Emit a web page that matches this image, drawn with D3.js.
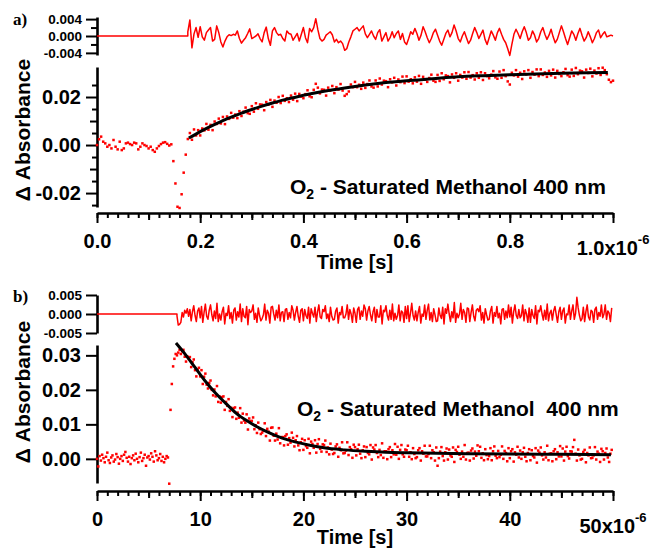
<!DOCTYPE html>
<html lang="en">
<head>
  <meta charset="UTF-8" />
  <title>Transient absorbance, O2-saturated methanol</title>
  <script src="https://d3js.org/d3.v7.min.js"></script>
  <style>
    body { margin: 0; background: #fff; }
    svg { display: block; font-family: "Liberation Sans", Arial, sans-serif; font-weight: bold; }
    .panel-tag { font-family: "Liberation Serif", "Times New Roman", serif; font-size: 17px; }
    .note { white-space: pre; }
  </style>
</head>
<body>
  <svg id="chart" width="653" height="549"></svg>

  <script>
    // all absorbance values below are in units of 1e-4, times in microseconds

    // ---- panel a) : 0 .. 1 us, one sample every 4 ns
    const aStep = 0.004;
    const aData = [
      0, 24, 35, 14, 7, -7, 0, -14, 21, -7,
      -18, 14, -21, -14, 7, 10, 4, 0, 10, 7,
      -18, -7, 7, 0, -4, -14, -7, -21, -28, -14,
      -4, 4, 10, 12, 5, -2, 3,
      -67, -160, -257, -262, -205, -115, -40, 25,
      50, 22, 65, 40, 62, 40, 69, 61, 88, 64,
      84, 62, 98, 88, 110, 90, 117, 87, 119, 109,
      134, 114, 127, 112, 141, 121, 139, 156, 133, 130,
      162, 139, 174, 151, 169, 168, 145, 179, 168, 188,
      159, 185, 176, 200, 175, 205, 184, 195, 179, 206,
      189, 214, 183, 213, 202, 195, 212, 228, 203, 199,
      230, 255, 239, 215, 231, 230, 206, 239, 227, 246,
      216, 241, 231, 254, 227, 205, 212, 223, 252, 241,
      263, 241, 251, 234, 260, 238, 254, 269, 244, 239,
      269, 244, 277, 252, 268, 266, 241, 274, 261, 280,
      248, 273, 262, 285, 258, 286, 264, 274, 257, 282,
      264, 288, 255, 284, 272, 263, 279, 293, 268, 263,
      292, 267, 299, 274, 290, 287, 261, 294, 280, 299,
      268, 292, 281, 303, 276, 304, 281, 291, 273, 299,
      280, 303, 271, 299, 287, 278, 293, 308, 282, 276,
      306, 280, 312, 287, 265, 252, 301, 290, 312, 285,
      301, 275, 307, 294, 312, 280, 304, 293, 315, 287,
      315, 292, 302, 284, 309, 290, 314, 281, 309, 296,
      287, 303, 317, 291, 285, 314, 288, 321, 295, 310,
      307, 281, 314, 300, 318, 286, 310, 298, 320, 292,
      322, 312, 295, 272, 262, 268
    ];
    const aResidStart = 0.176;
    const aResid = [
      10, 38, -28, 5, 20, -3, 22, -2, -10, 8,
      14, 20, -12, -8, 24, 8, -14, -26, -12, -2,
      3, 1, 4, 2, 12, -6, -17, -10, -4, 6,
      17, -6, -3, 0, 5, -6, -14, 8, 21, -6,
      -22, 12, 20, 8, 2, 4, -6, -12, 12, 6,
      4, -10, -2, 6, -12, 4, 20, -4, -16, 18,
      10, 20, 41, 15, -6, -12, -8, 2, 6, 10,
      3, -14, -8, -16, -12, -18, -34, -30, -14, -2,
      12, 16, 20, 12, 18, 24, 5, -4, 4, 12,
      0, -8, 8, 15, -12, -2, 8, -12, -4, 10,
      -4, 6, 12,
      -8, 6, -14, -20, -6, 10, 4, 18, 6, -10,
      2, 22, 10, -4, -16, -6, 8, 16, 2, -12,
      -22, -8, 6, 14, -2, 8, 26, 12, -6, -14,
      0, 10, -4, -18, -10, 6, 20, 8, -6, 4,
      14, -8, -20, -4, 12, 2, -10, 8, 18, 4,
      -8, -16, -30, -46, -20, 4, 16, 6, -6, 10,
      22, 8, -10, -4, 12, 2, -14, -6, 10, 20,
      4, -8, 2, 16, -2, -16, -8, 8, 24, 10,
      -6, -20, -4, 12, 4, -10, 6, 18, 2, -12,
      -4, 10, -2, -16, -6, 8, 14, -4, 4, 10,
      -2, 0, 2, 0
    ];
    const aFit = [
      [0.178, 29], [0.20, 56], [0.22, 78], [0.24, 98], [0.26, 116], [0.28, 133],
      [0.30, 148], [0.32, 162], [0.34, 175], [0.36, 187], [0.38, 197], [0.40, 207],
      [0.44, 224], [0.48, 238], [0.52, 250], [0.56, 260], [0.60, 268], [0.65, 276],
      [0.70, 284], [0.75, 289], [0.80, 293], [0.85, 296], [0.90, 299], [0.95, 301],
      [0.99, 302]
    ];
    const aXTicks = [0, 0.2, 0.4, 0.6, 0.8, 1.0];
    const aXLabels = ["0.0", "0.2", "0.4", "0.6", "0.8", ""];
    const aYTicks = [-200, 0, 200];
    const aYLabels = ["-0.02", "0.00", "0.02"];
    const aRTicks = [-40, 0, 40];
    const aRLabels = ["-0.004", "0.000", "0.004"];

    // ---- panel b) : 0 .. 50 us, one sample every 0.125 us
    const bStep = 0.125;
    const bData = [
      0, -22, 8, -5, 12, 2, -10, 6, 18, -4,
      -12, 4, 10, -8, -2, 14, 5, -14, 0, 8,
      -6, 12, 20, 3, -8, 6, -15, 2, 10, -4,
      15, 0, -10, 5, 18, -6, 2, 12, -20, 4,
      8, -2, 16, 6, -8, 22, 10, -4, 2, 14,
      -6, 6, -10, 0, 8, 4,
      -72, 142, 217, 268, 290, 304, 300, 308,
      316, 304, 312, 316, 296, 282, 297, 292,
      295, 266, 280, 288, 257, 239, 258, 264,
      239, 257, 217, 238, 247, 215, 204, 220,
      227, 200, 184, 201, 181, 211, 165, 181,
      163, 179, 181, 142, 165, 154, 173, 139,
      148, 121, 147, 149, 116, 134, 119, 147,
      105, 131, 111, 105, 129, 85, 117, 109,
      110, 120, 86, 97, 75, 105, 86, 72,
      76, 81, 103, 66, 87, 79, 53, 90,
      91, 67, 53, 73, 56, 89, 45, 63,
      63, 39, 66, 71, 41, 60, 47, 76,
      61, 36, 54, 66, 39, 25, 48, 58,
      26, 54, 37, 32, 58, 16, 50, 43,
      32, 54, 18, 43, 57, 29, 21, 42,
      40, 53, 20, 33, 13, 44, 27, 14,
      17, 36, 42, 6, 32, 25, 48, 16,
      17, 24, 48, 11, 34, 28, 3, 41,
      34, 10, 28, 41, 15, 2, 25, 36,
      5, 34, 17, 13, 40, -2, 33, 27,
      40, 17, 5, 26, 11, 45, 3, 22,
      22, -1, 28, 34, 5, 25, 13, 43,
      12, 35, 0, 26, 40, 13, 6, 27,
      25, 38, 6, 19, -1, 31, 14, 2,
      5, 25, 31, -5, 22, 15, 38, 7,
      7, 14, 38, 2, 25, 19, -5, 33,
      -20, 2, 21, 34, 8, -5, 19, 30,
      -2, 27, 10, 6, 33, -9, 26, 20,
      35, 12, 0, 21, 6, 40, -2, 17,
      18, -5, 24, 30, 1, 21, 9, 39,
      22, 35, 3, 16, -4, 28, 11, -1,
      8, 31, -4, 22, 36, 9, 2, 23,
      5, 12, 36, 0, 23, 17, -7, 31,
      2, 22, 28, -8, 19, 12, 35, 4,
      24, 0, 19, 32, 6, -7, 17, 28,
      -4, 25, 8, 4, 31, -11, 24, 18,
      33, 10, -2, 19, 4, 38, -4, 15,
      16, -7, 22, 28, -1, 19, 7, 37,
      7, 30, -5, 21, 35, 8, 1, 22,
      21, 34, 55, 15, -5, 27, 10, -2,
      0, 20, 26, -10, 17, 10, 33, 2,
      3, 10, 34, -2, 21, 15, -9, 29,
      22, -2, 17, 30, 4, -9, 15, 26
    ];
    const bResidStart = 7.75;
    const bResid = [
      -5, -29, -27, -22, 4, -8, 10, 2, 14, -6,
      12, -18, 6, 22, -4, -20, 8, 16,
      -10, 20, -22, 4, 26, -6, -14, 10,
      24, -2, -18, 8, -12, 28, -20, 0,
      -16, 6, 18, -26, 2, -4, 22, -12,
      4, -24, 10, 16, -16, 6, -8, 26,
      -20, 14, -6, -10, 20, -28, 12, 4,
      8, 24, -14, 2, -22, 16, -4, -18,
      -12, -2, 26, -16, 10, 2, -24, 18,
      20, 0, -16, 10, -10, 24, -18, 4,
      6, -20, 12, 14, -14, 4, -10, 22,
      10, -16, 4, 20, -6, -22, 10, 14,
      -18, 12, -4, -12, 18, -24, 14, 2,
      -8, 18, -20, 6, 24, -8, -12, 12,
      6, 22, -12, 0, -20, 18, -6, -16,
      -14, 8, 16, -24, 4, -2, 20, -10,
      -10, 0, 24, -14, 12, 0, -22, 16,
      2, -22, 12, 18, -14, 8, -6, 24,
      14, -16, 8, 20, -2, -18, 6, 18,
      -22, 12, -8, -8, 22, -26, 10, 6,
      22, -4, -16, 10, -14, 26, -18, 2,
      -14, -4, 24, -18, 8, 4, -22, 20,
      -12, 22, -20, 2, 28, -4, -16, 8,
      -18, 4, 20, -24, 0, -6, 24, -14,
      10, 26, -16, 4, -20, 14, -2, -20,
      -18, 16, -4, -12, 18, -26, 14, 2,
      26, 0, -20, 6, -10, 30, -22, 2,
      -10, 0, 28, -14, 12, 4, -22, 16,
      14, -20, 4, 24, -6, -18, 10, 14,
      6, 22, -16, 4, -24, 14, -2, -16,
      -14, 8, 20, -24, 4, -6, 20, -10,
      2, -26, 12, 14, -14, 8, -10, 24,
      -8, 18, -24, 6, 24, -4, -12, 12,
      -10, -4, 24, -18, 12, 0, -22, 16,
      -22, 12, -4, -12, 22, -26, 10, 6,
      22, 0, -16, 10, -14, 26, -18, 2,
      10, -16, 8, 20, -2, -22, 6, 18,
      -14, 8, 16, -24, 0, -2, 24, -14,
      8, 24, -14, 2, 44, 16, -4, -18,
      -12, 18, -20, 6, 24, -8, -16, 10,
      6, -22, 12, 18, -14, 4, -6, 24,
      -10, 0, 24, -14, 8, 2, -20, 16
    ];
    const bFit = [
      [7.65, 336], [8.5, 305], [9.5, 265], [10.5, 225], [11.5, 190], [12.5, 160],
      [13.5, 132], [14.5, 111], [15.5, 93], [16.5, 78], [17.5, 65], [18.5, 55],
      [19.5, 47], [20.5, 40], [22, 32], [24, 26], [26, 22], [28, 19], [30, 17.5],
      [33, 16], [36, 15], [40, 14], [45, 13], [49.8, 12]
    ];
    const bXTicks = [0, 10, 20, 30, 40, 50];
    const bXLabels = ["0", "10", "20", "30", "40", ""];
    const bYTicks = [0, 100, 200, 300];
    const bYLabels = ["0.00", "0.01", "0.02", "0.03"];
    const bRTicks = [-50, 0, 50];
    const bRLabels = ["-0.005", "0.000", "0.005"];

    const RED = "#ff0000";
    const svg = d3.select("#chart");

    function styleAxis(g, fontSize) {
      g.attr("font-family", null).attr("font-size", fontSize);
      g.select(".domain").attr("stroke-width", 2.6);
      g.selectAll(".tick line").attr("stroke-width", 2);
    }

    // extra unlabelled ticks, drawn without their own domain line
    function extraTicks(axisFn, scale, values, size, transform) {
      const g = svg.append("g").attr("transform", transform)
        .call(axisFn(scale).tickValues(values).tickSize(size).tickSizeOuter(0).tickFormat(""));
      g.select(".domain").remove();
      g.selectAll(".tick line").attr("stroke-width", 2);
    }

    function drawPanel(p) {
      const x = d3.scaleLinear().domain(p.xDomain).range([97, 613]);
      const y = d3.scaleLinear().domain(p.yDomain).range(p.yRange);
      const yr = d3.scaleLinear().domain(p.rDomain).range(p.rRange);

      // x axis
      extraTicks(d3.axisBottom, x, p.xMinor, 5, `translate(0,${p.xAxisY})`);
      extraTicks(d3.axisBottom, x, p.xMid, 7, `translate(0,${p.xAxisY})`);
      svg.append("g")
        .attr("transform", `translate(0,${p.xAxisY})`)
        .call(d3.axisBottom(x).tickValues(p.xTicks).tickSize(10).tickPadding(11).tickSizeOuter(0)
          .tickFormat((d, i) => p.xLabels[i]))
        .call(g => styleAxis(g, 20));

      const last = p.xTicks[p.xTicks.length - 1];
      const ex = svg.append("text")
        .attr("x", x(last)).attr("y", p.xAxisY + 42)
        .attr("text-anchor", "middle").attr("font-size", 20)
        .text(p.expLabel);
      ex.append("tspan").attr("dy", -11).attr("font-size", 13).text("-6");

      svg.append("text")
        .attr("x", (x.range()[0] + x.range()[1]) / 2).attr("y", p.xAxisY + p.titleGap)
        .attr("text-anchor", "middle").attr("font-size", 20)
        .text("Time [s]");

      // main y axis
      if (p.yMinor) extraTicks(d3.axisLeft, y, p.yMinor, 5, "translate(97,0)");
      if (p.yMid) extraTicks(d3.axisLeft, y, p.yMid, 7, "translate(97,0)");
      svg.append("g")
        .attr("transform", "translate(97,0)")
        .call(d3.axisLeft(y).tickValues(p.yTicks).tickSize(11).tickPadding(5).tickSizeOuter(0)
          .tickFormat((d, i) => p.yLabels[i]))
        .call(g => styleAxis(g, 20));

      // residual y axis
      if (p.rMinor) extraTicks(d3.axisLeft, yr, p.rMinor, 6, "translate(97,0)");
      svg.append("g")
        .attr("transform", "translate(97,0)")
        .call(d3.axisLeft(yr).tickValues(p.rTicks).tickSize(11).tickPadding(4).tickSizeOuter(0)
          .tickFormat((d, i) => p.rLabels[i]))
        .call(g => styleAxis(g, 13.5));

      svg.append("text")
        .attr("transform", `translate(30,${p.yLabelY}) rotate(-90)`)
        .attr("text-anchor", "middle").attr("font-size", 21)
        .text("\u0394 Absorbance");

      svg.append("text").attr("class", "panel-tag")
        .attr("x", 13).attr("y", p.tagY).text(p.tag);

      // residual trace: flat zero before the fit window
      const resid = [[p.xDomain[0], 0], [p.residStart, 0]]
        .concat(p.resid.map((v, i) => [p.residStart + i * p.step, v]));
      svg.append("path")
        .datum(resid)
        .attr("fill", "none").attr("stroke", RED).attr("stroke-width", 1.5)
        .attr("stroke-linejoin", "round")
        .attr("d", d3.line().x(d => x(d[0])).y(d => yr(d[1])));

      // data points
      svg.append("g").attr("fill", RED)
        .selectAll("rect")
        .data(p.data)
        .join("rect")
        .attr("x", (d, i) => x(i * p.step) - 1.25)
        .attr("y", d => y(d) - 1.25)
        .attr("width", 2.5).attr("height", 2.5);

      // fit
      svg.append("path")
        .datum(p.fit)
        .attr("fill", "none").attr("stroke", "#000").attr("stroke-width", 3)
        .attr("d", d3.line().curve(d3.curveMonotoneX).x(d => x(d[0])).y(d => y(d[1])));

      // annotation
      const t = svg.append("text").attr("class", "note")
        .attr("x", p.noteX).attr("y", p.noteY).attr("font-size", 21);
      t.append("tspan").text("O");
      t.append("tspan").attr("font-size", 14).attr("dy", 5).text("2");
      t.append("tspan").attr("dy", -5).text(p.noteText);
    }

    drawPanel({
      tag: "a)", tagY: 25,
      step: aStep, data: aData, resid: aResid, residStart: aResidStart, fit: aFit,
      xDomain: [0, 1.0], xAxisY: 213, titleGap: 56,
      xTicks: aXTicks, xLabels: aXLabels, expLabel: "1.0x10",
      xMid: [0.1, 0.3, 0.5, 0.7, 0.9], xMinor: d3.range(0, 1.001, 0.02),
      yDomain: [-258, 325], yRange: [207, 67],
      yTicks: aYTicks, yLabels: aYLabels,
      yMid: [-100, 100], yMinor: [-250, -150, -50, 50, 150, 250],
      rDomain: [-45, 45], rRange: [55, 17],
      rTicks: aRTicks, rLabels: aRLabels, rMinor: [-20, 20],
      yLabelY: 130,
      noteX: 290, noteY: 194, noteText: " - Saturated Methanol 400 nm"
    });

    drawPanel({
      tag: "b)", tagY: 302,
      step: bStep, data: bData, resid: bResid, residStart: bResidStart, fit: bFit,
      xDomain: [0, 50], xAxisY: 491, titleGap: 53,
      xTicks: bXTicks, xLabels: bXLabels, expLabel: "50x10",
      xMid: [5, 15, 25, 35, 45], xMinor: d3.range(0, 50.5, 1),
      yDomain: [-70, 330], yRange: [483, 345],
      yTicks: bYTicks, yLabels: bYLabels,
      rDomain: [-50, 50], rRange: [333, 295],
      rTicks: bRTicks, rLabels: bRLabels,
      yLabelY: 392,
      noteX: 297, noteY: 416, noteText: " - Saturated Methanol  400 nm"
    });
  </script>
</body>
</html>
